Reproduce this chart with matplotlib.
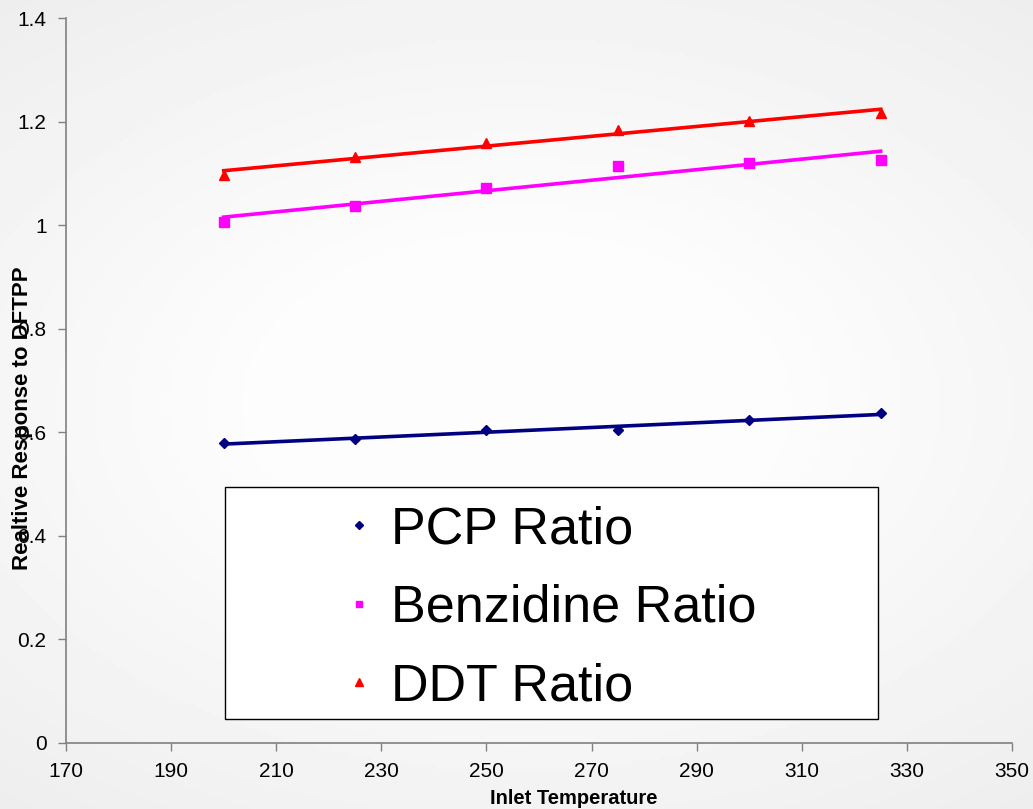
import numpy as np
import matplotlib.pyplot as plt
from matplotlib.lines import Line2D
from matplotlib.patches import Rectangle

plt.rcParams['font.family'] = ['Liberation Sans', 'DejaVu Sans']

# inlet temperatures and response ratios relative to DFTPP
temperature = [200, 225, 250, 275, 300, 325]
pcp_ratio = [0.579, 0.587, 0.604, 0.604, 0.624, 0.637]
benzidine_ratio = [1.006, 1.037, 1.072, 1.114, 1.120, 1.126]
ddt_ratio = [1.097, 1.131, 1.158, 1.184, 1.201, 1.216]

series = [
    ('PCP Ratio', pcp_ratio, '#000080', 'D', 5.5),
    ('Benzidine Ratio', benzidine_ratio, '#FF00FF', 's', 6.5),
    ('DDT Ratio', ddt_ratio, '#FF0000', '^', 7),
]

fig = plt.figure(figsize=(10.33, 8.09), dpi=100)

# soft grey background, lighter towards the middle
bg = fig.add_axes([0, 0, 1, 1], zorder=-10)
yy, xx = np.mgrid[-1:1:200j, -1:1:260j]
r = np.sqrt((xx * 0.9) ** 2 + (yy * 1.1) ** 2)
shade = 0.99 - 0.06 * np.clip(r - 0.45, 0, None)
bg.imshow(shade, cmap='gray', vmin=0, vmax=1, aspect='auto', extent=[0, 1, 0, 1])
bg.axis('off')

ax = fig.add_axes([0.0639, 0.0816, 0.9158, 0.8961])
ax.set_facecolor('none')

x = np.array(temperature, dtype=float)
handles = []
for name, vals, col, mk, ms in series:
    ax.plot(x, vals, linestyle='none', marker=mk, color=col, markersize=ms, zorder=3)
    # linear trendline
    k, b = np.polyfit(x, vals, 1)
    ax.plot([x[0], x[-1]], [k * x[0] + b, k * x[-1] + b], color=col, linewidth=2.6, zorder=2)
    handles.append(Line2D([], [], linestyle='none', marker=mk, color=col, markersize=ms * 0.75, label=name))

ax.set_xlim(170, 350)
ax.set_ylim(0, 1.4)
ax.set_xticks(range(170, 351, 20))
ax.set_yticks([0, 0.2, 0.4, 0.6, 0.8, 1.0, 1.2, 1.4])
ax.set_yticklabels(['0', '0.2', '0.4', '0.6', '0.8', '1', '1.2', '1.4'])
ax.tick_params(labelsize=15, colors='#808080', labelcolor='black', length=6, width=1)
ax.tick_params(axis='y', pad=8)
ax.tick_params(axis='x', pad=8)
for s in ['top', 'right']:
    ax.spines[s].set_visible(False)
for s in ['left', 'bottom']:
    ax.spines[s].set_color('#808080')
    ax.spines[s].set_linewidth(1.2)

# legend box
box = Rectangle((200.2, 0.046), 124.3, 0.448, facecolor='white', edgecolor='black', linewidth=1, zorder=4)
ax.add_patch(box)
leg = ax.legend(handles=handles, loc='upper left', bbox_to_anchor=(0.266, 0.364),
                frameon=False, fontsize=37.5, handlelength=0.6, handletextpad=0.3,
                labelspacing=0.57, borderpad=0)
leg.set_zorder(5)

fig.text(574 / 1033, 1 - 798 / 809, 'Inlet Temperature', ha='center', va='center',
         fontsize=14.5, fontweight='bold')
fig.text(23 / 1033, 1 - 418 / 809, 'Realtive Response to DFTPP', ha='center', va='center',
         rotation=90, fontsize=16, fontweight='bold')

fig.savefig('out.png', dpi=100)
